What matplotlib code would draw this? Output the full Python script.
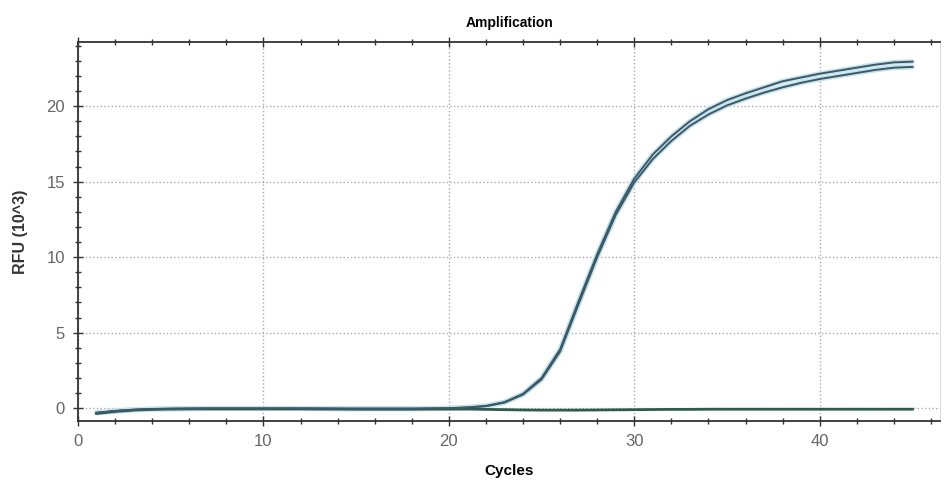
import matplotlib.pyplot as plt
from matplotlib.ticker import MultipleLocator

plt.rcParams['font.family'] = ['Liberation Sans', 'DejaVu Sans']

# Cycle numbers
cycles = list(range(1, 46))

# RFU (10^3) for the two amplified replicates
rep_a = [-0.30, -0.18, -0.10, -0.06, -0.04, -0.03, -0.02, -0.02, -0.02, -0.02,
         -0.02, -0.02, -0.02, -0.03, -0.03, -0.03, -0.03, -0.03, -0.02, 0.00,
         0.05, 0.15, 0.40, 0.95, 2.00, 3.90, 7.10, 10.20, 13.00, 15.20,
         16.80, 18.00, 19.00, 19.80, 20.40, 20.85, 21.25, 21.65, 21.90, 22.15,
         22.35, 22.55, 22.75, 22.90, 22.95]
rep_b = [-0.32, -0.20, -0.12, -0.07, -0.05, -0.04, -0.03, -0.03, -0.03, -0.03,
         -0.03, -0.03, -0.03, -0.04, -0.04, -0.04, -0.04, -0.04, -0.03, -0.01,
         0.04, 0.13, 0.37, 0.90, 1.90, 3.75, 6.90, 10.00, 12.80, 14.95,
         16.50, 17.70, 18.70, 19.45, 20.05, 20.50, 20.90, 21.25, 21.55, 21.80,
         22.00, 22.20, 22.40, 22.55, 22.60]
# Negative control
neg = [-0.35, -0.22, -0.13, -0.08, -0.06, -0.05, -0.05, -0.05, -0.05, -0.05,
       -0.05, -0.05, -0.06, -0.06, -0.07, -0.07, -0.07, -0.07, -0.06, -0.06,
       -0.06, -0.08, -0.10, -0.12, -0.13, -0.13, -0.13, -0.12, -0.11, -0.10,
       -0.09, -0.08, -0.08, -0.07, -0.07, -0.07, -0.07, -0.07, -0.07, -0.07,
       -0.07, -0.07, -0.07, -0.07, -0.07]

fig = plt.figure(figsize=(9.44, 4.82), dpi=100)
ax = fig.add_axes([78 / 944, 61 / 482, 1 - 78 / 944 - 0.004, 379 / 482])

# light halo under each trace, dark core on top
for y in (rep_a, rep_b):
    ax.plot(cycles, y, color='#c6e2ee', lw=3.6, solid_capstyle='round',
            solid_joinstyle='round', zorder=2)
ax.plot(cycles, neg, color='#2f5a4c', lw=2.0, zorder=3)
for y in (rep_a, rep_b):
    ax.plot(cycles, y, color='#3b5a66', lw=1.4, solid_joinstyle='round', zorder=4)

ax.set_xlim(0, 46.5)
ax.set_ylim(-0.85, 24.25)
ax.xaxis.set_major_locator(MultipleLocator(10))
ax.xaxis.set_minor_locator(MultipleLocator(2))
ax.yaxis.set_major_locator(MultipleLocator(5))
ax.yaxis.set_minor_locator(MultipleLocator(1))

ax.tick_params(which='both', direction='inout', color='#333333', top=True,
               labelsize=12, labelcolor='#666666')
ax.tick_params(which='major', length=7, width=1, pad=6)
ax.tick_params(which='minor', length=5, width=1)

for side in ('left', 'bottom', 'top'):
    ax.spines[side].set_color('#333333')
    ax.spines[side].set_linewidth(1.3)
ax.spines['right'].set_color('#dddddd')

ax.grid(which='major', linestyle=':', color='#aaaaaa', lw=1.0)

ax.set_title('Amplification', fontsize=10, fontweight='bold', pad=11)
ax.set_xlabel('Cycles', fontsize=11, fontweight='bold', labelpad=11)
ax.set_ylabel('RFU (10^3)', fontsize=11.5, fontweight='bold', labelpad=13,
              color='#333333')

fig.savefig('out.png', dpi=100)
